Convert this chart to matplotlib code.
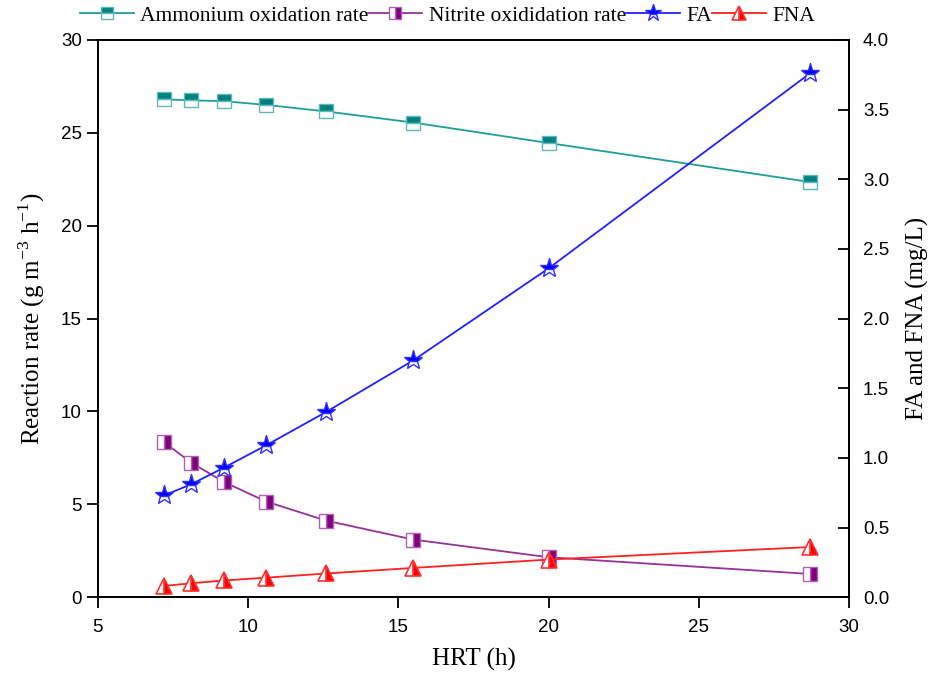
import matplotlib.pyplot as plt

plt.rcParams['font.family'] = 'Liberation Sans'
plt.rcParams['mathtext.fontset'] = 'custom'
plt.rcParams['mathtext.rm'] = 'Liberation Serif'

# HRT (h) and measured rates / free ammonia and free nitrous acid
hrt = [7.2, 8.1, 9.2, 10.6, 12.6, 15.5, 20.0, 28.7]
ammonium_rate = [26.8, 26.75, 26.7, 26.5, 26.15, 25.55, 24.45, 22.35]
nitrite_rate = [8.35, 7.25, 6.2, 5.15, 4.12, 3.1, 2.15, 1.25]
fa = [0.73, 0.81, 0.93, 1.09, 1.33, 1.70, 2.36, 3.76]
fna = [0.08, 0.10, 0.12, 0.14, 0.17, 0.21, 0.27, 0.36]

serif = 'Liberation Serif'

fig = plt.figure(figsize=(9.32, 6.88), dpi=100)
ax1 = fig.add_axes([0.105, 0.132, 0.806, 0.81])
ax2 = ax1.twinx()

l1, = ax1.plot(hrt, ammonium_rate, color='#1f9c9c', lw=1.3, marker='s', ms=10,
               fillstyle='top', markerfacecolor='#008080', markerfacecoloralt='white',
               markeredgecolor='#5fb8b8', markeredgewidth=1.0)
l2, = ax1.plot(hrt, nitrite_rate, color='#963296', lw=1.3, marker='s', ms=10,
               fillstyle='right', markerfacecolor='#800080', markerfacecoloralt='white',
               markeredgecolor='#b060b0', markeredgewidth=1.0)
l3, = ax2.plot(hrt, fa, color='#2020ff', lw=1.3, marker='*', ms=14,
               fillstyle='top', markerfacecolor='#0000ff', markerfacecoloralt='white',
               markeredgecolor='#3030ff', markeredgewidth=1.0)
l4, = ax2.plot(hrt, fna, color='#ff2020', lw=1.3, marker='^', ms=11,
               fillstyle='right', markerfacecolor='#ff0000', markerfacecoloralt='white',
               markeredgecolor='#ff3030', markeredgewidth=1.2)

ax1.set_xlim(5, 30)
ax1.set_ylim(0, 30)
ax2.set_ylim(0, 4.0)
ax1.set_xticks([5, 10, 15, 20, 25, 30])
ax1.set_yticks([0, 5, 10, 15, 20, 25, 30])
ax2.set_yticks([0.0, 0.5, 1.0, 1.5, 2.0, 2.5, 3.0, 3.5, 4.0])
ax2.set_yticklabels([f"{v:.1f}" for v in ax2.get_yticks()])

ax1.tick_params(axis='both', direction='out', length=8, width=1.3, labelsize=13.5)
ax1.tick_params(axis='x', pad=8)
ax2.tick_params(axis='y', direction='in', length=8, width=1.3, labelsize=13.5, pad=10)
for ax in (ax1, ax2):
    for sp in ax.spines.values():
        sp.set_linewidth(1.3)

ax1.set_xlabel('HRT (h)', family=serif, fontsize=18, labelpad=8)
ax1.set_ylabel(r'Reaction rate (g m$^{\mathregular{-3}}$ h$^{\mathregular{-1}}$)',
               family=serif, fontsize=18, labelpad=10)
ax2.set_ylabel('FA and FNA (mg/L)', family=serif, fontsize=18, labelpad=12)

fig.legend([l1, l2, l3, l4],
           ['Ammonium oxidation rate', 'Nitrite oxididation rate', 'FA', 'FNA'],
           loc='upper center', bbox_to_anchor=(0.48, 1.02), ncol=4, frameon=False,
           prop={'family': serif, 'size': 15.5}, handlelength=2.5, handletextpad=0.3,
           columnspacing=0.0, markerscale=0.9)

plt.savefig('out.png', dpi=100)
